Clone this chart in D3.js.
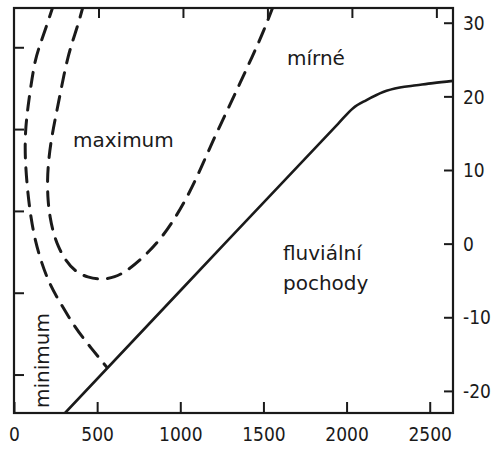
<!DOCTYPE html>
<html>
<head>
<meta charset="utf-8">
<script src="https://cdn.jsdelivr.net/npm/d3@7"></script>
<style>
  body { margin: 0; background: #fff; }
  svg { display: block; }
  .num { font-family: "DejaVu Sans Condensed", "DejaVu Sans", sans-serif; font-size: 19px; fill: #1a1a1a; }
  .lbl { font-family: "DejaVu Sans", sans-serif; font-size: 20px; fill: #1a1a1a; }
</style>
</head>
<body>
<script>
// srážky (mm) na ose x, teplota (°C) na ose y
const xTicks = [0, 500, 1000, 1500, 2000, 2500];
const yTicks = [30, 20, 10, 0, -10, -20];
const topTicksInch = [20, 40, 60, 80, 100];   // horní osa v palcích
const leftTicksF = [0, 20, 40, 60, 80];        // levá osa ve °F

// hranice fluviálních pochodů (plná čára)
const solidLine = [
  [307, -23], [1000, -6.4], [1950, 16.3], [2039, 18.4], [2120, 19.5],
  [2220, 20.6], [2320, 21.2], [2420, 21.5], [2520, 21.8], [2640, 22.1]
];
// vnější čárkovaná křivka (minimum)
const outerDash = [
  [240, 32.6], [198, 29.7], [156, 27], [126, 24.9], [102, 21.5], [84, 18.6],
  [70, 15.8], [66, 13.1], [70, 10.4], [84, 6.6], [102, 3.5], [126, 0.5],
  [168, -2.8], [216, -5.6], [277, -8], [367, -11.4], [457, -14], [559, -16.8]
];
// vnitřní čárkovaná křivka (maximum)
const innerDash = [
  [420, 32.6], [385, 29.7], [352, 27.5], [325, 25.4], [300, 22.9], [275, 20],
  [250, 17.2], [226, 14.4], [208, 11.4], [200, 8.6], [204, 5.8], [216, 3.6],
  [236, 1.5], [265, -0.4], [307, -2.2], [367, -3.8], [445, -4.6], [517, -4.9],
  [607, -4.6], [686, -3.6], [776, -1.9], [878, 0.5], [968, 3.4], [1058, 7],
  [1137, 10.9], [1209, 14.6], [1287, 18.3], [1359, 21.8], [1431, 25.3],
  [1497, 28.6], [1565, 32.6]
];

const W = 492, H = 449;
const L = 14, R = 453, T = 8, B = 413;
const ink = "#1a1a1a";

const svg = d3.select("body").append("svg")
  .attr("width", W).attr("height", H);

const x = d3.scaleLinear().domain([0, 2640]).range([L, R]);
const y = d3.scaleLinear().domain([-23, 32]).range([B, T]);
const xIn = d3.scaleLinear().domain([0, 2640 / 25.4]).range([L, R]);
const yF = d3.scaleLinear().domain([-23 * 9 / 5 + 32, 32 * 9 / 5 + 32]).range([B, T]);

svg.append("defs").append("clipPath").attr("id", "plot")
  .append("rect").attr("x", L).attr("y", T).attr("width", R - L).attr("height", B - T);

// osy
const bottomAxis = svg.append("g")
  .attr("transform", `translate(0,${B})`)
  .call(d3.axisBottom(x).tickValues(xTicks).tickSizeInner(-11).tickSizeOuter(0).tickPadding(15)
    .tickFormat(d => String(d)));
const rightAxis = svg.append("g")
  .attr("transform", `translate(${R},0)`)
  .call(d3.axisRight(y).tickValues(yTicks).tickSizeInner(-9).tickSizeOuter(0).tickPadding(10)
    .tickFormat(d => String(d)));
const topAxis = svg.append("g")
  .attr("transform", `translate(0,${T})`)
  .call(d3.axisBottom(xIn).tickValues(topTicksInch).tickSize(10).tickFormat(""));
const leftAxis = svg.append("g")
  .attr("transform", `translate(${L},0)`)
  .call(d3.axisRight(yF).tickValues(leftTicksF).tickSize(10).tickFormat(""));

[bottomAxis, rightAxis, topAxis, leftAxis].forEach(a => {
  a.select(".domain").remove();
  a.selectAll(".tick line").attr("stroke", ink).attr("stroke-width", 2);
  a.selectAll("text").attr("class", "num").attr("font-family", null).attr("font-size", null);
});
rightAxis.selectAll("text").attr("dy", "0.35em");

// rámeček
svg.append("rect")
  .attr("x", L).attr("y", T).attr("width", R - L).attr("height", B - T)
  .attr("fill", "none").attr("stroke", ink).attr("stroke-width", 2.2);

const g = svg.append("g").attr("clip-path", "url(#plot)");

g.append("path")
  .datum(solidLine)
  .attr("d", d3.line().x(d => x(d[0])).y(d => y(d[1])).curve(d3.curveMonotoneX))
  .attr("fill", "none").attr("stroke", ink).attr("stroke-width", 2.6);

const dashLine = d3.line().x(d => x(d[0])).y(d => y(d[1])).curve(d3.curveBasis);
[outerDash, innerDash].forEach(curve => {
  g.append("path")
    .datum(curve)
    .attr("d", dashLine)
    .attr("fill", "none").attr("stroke", ink).attr("stroke-width", 3)
    .attr("stroke-linecap", "round")
    .attr("stroke-dasharray", "14,10");
});

// popisky oblastí
svg.append("text").attr("class", "lbl").attr("x", 73).attr("y", 147).text("maximum");
svg.append("text").attr("class", "lbl").attr("x", 287).attr("y", 65).text("mírné");
svg.append("text").attr("class", "lbl").attr("x", 283).attr("y", 260).text("fluviální");
svg.append("text").attr("class", "lbl").attr("x", 283).attr("y", 290).text("pochody");
svg.append("text").attr("class", "lbl")
  .attr("transform", "translate(49,408) rotate(-90)")
  .attr("font-size", 19)
  .text("minimum");
</script>
</body>
</html>
